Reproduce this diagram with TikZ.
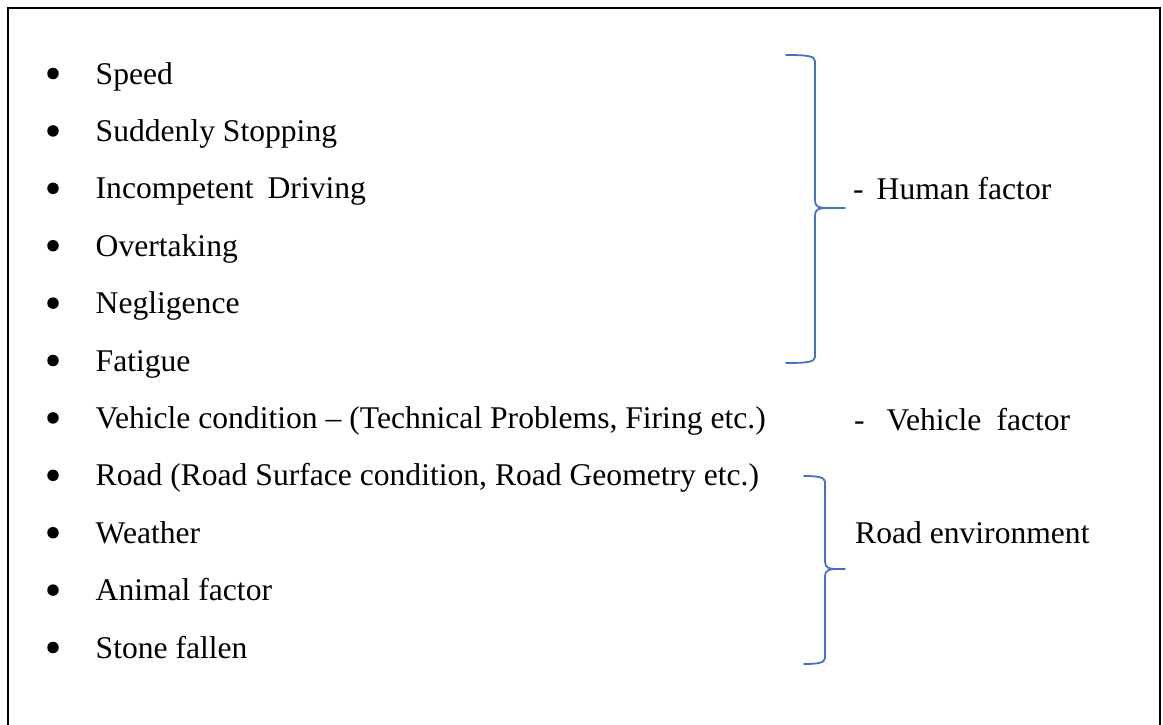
\documentclass[tikz,border=0pt]{standalone}
\usepackage{fontspec}
\setmainfont{Liberation Serif}
\definecolor{bracecol}{RGB}{68,114,196}
\newcommand\wbrace[6]{% x-left, x-vertical, x-tip, y-top, y-mid, y-bottom
  \draw[bracestyle] (#1,#4) .. controls (#2-8,#4) and (#2,#4+1) .. (#2,#4+6)
    -- (#2,#5-7) .. controls (#2,#5-1) and (#2+5,#5) .. (#2+11,#5) -- (#3,#5);
  \draw[bracestyle] (#2+11,#5) .. controls (#2+5,#5) and (#2,#5+1) .. (#2,#5+7)
    -- (#2,#6-6) .. controls (#2,#6-1) and (#2-8,#6) .. (#1,#6);
}
\tikzset{
  bracestyle/.style={draw=bracecol, line width=1.8pt, line cap=round, line join=round},
  item/.style={anchor=base west, inner sep=0pt, font=\fontsize{31.6}{38}\selectfont},
  lbl/.style={anchor=base west, inner sep=0pt, font=\fontsize{31.6}{38}\selectfont},
  dot/.style={circle, fill=black, draw=none, minimum size=11.5pt, inner sep=0pt},
}
\begin{document}
\begin{tikzpicture}[x=1pt,y=-1pt]
\useasboundingbox (0,0) rectangle (1163,724);
\fill[white] (0,0) rectangle (1163,724);
% frame (open at the bottom)
\draw[line width=2pt] (7.5,730) -- (7.5,7.5) -- (1159.5,7.5) -- (1159.5,730);
% bullet list
\foreach \t [count=\i from 0] in {Speed, Suddenly Stopping, Incompetent\hspace{14pt}Driving, Overtaking, Negligence, Fatigue, {Vehicle condition -- (Technical Problems, Firing etc.)}, {Road (Road Surface condition, Road Geometry etc.)}, Weather, Animal factor, Stone fallen}{
  \node[item] (it\i) at (95.5,{84+57.4*\i}) {\t};
  \node[dot] (b\i) at (53,{73.5+57.4*\i}) {};
}
% braces
\wbrace{786}{815}{845}{55}{208}{363}
\wbrace{804}{825}{845}{476}{569}{664}
% group labels
\node[lbl] (human) at (853,199) {-\hspace{13pt}Human factor};
\node[lbl] (vehicle) at (854,430) {-\hspace{22pt}Vehicle\hspace{15pt}factor};
\node[lbl] (roadenv) at (855,543) {Road environment};
\end{tikzpicture}
\end{document}
